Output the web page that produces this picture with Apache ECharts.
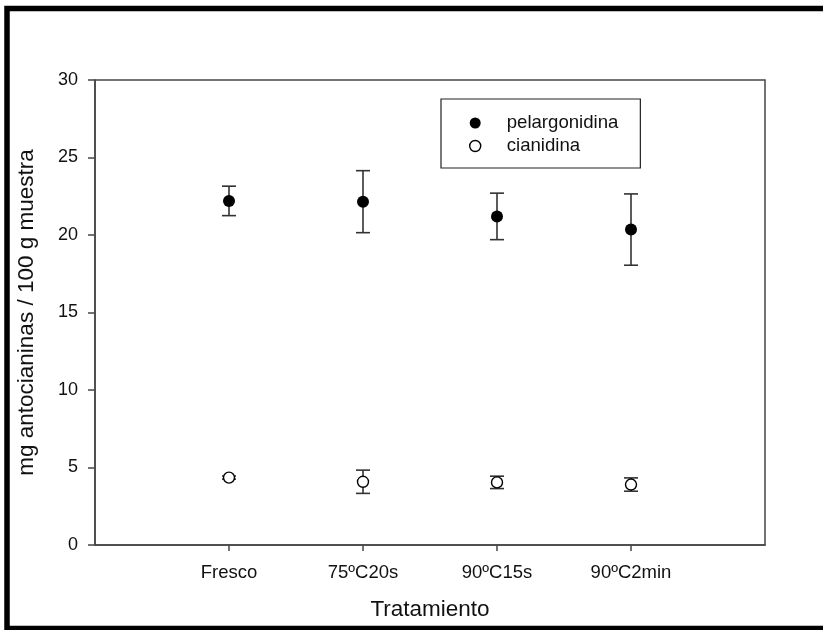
<!DOCTYPE html>
<html>
<head>
<meta charset="utf-8">
<script src="https://cdn.jsdelivr.net/npm/echarts@6/dist/echarts.min.js"></script>
<style>
  html, body { margin: 0; padding: 0; background: #fff; }
  #chart { width: 823px; height: 630px; }
</style>
</head>
<body>
<div id="chart"></div>
<script>
// Treatments along the x axis
const categories = ['Fresco', '75ºC20s', '90ºC15s', '90ºC2min'];
// Mean anthocyanin content (mg / 100 g) and error (±)
const pelargonidina = [22.2, 22.15, 21.2, 20.35];
const pelargonidinaErr = [0.95, 2.0, 1.5, 2.3];
const cianidina = [4.35, 4.08, 4.04, 3.9];
const cianidinaErr = [0.1, 0.75, 0.4, 0.43];
// Y axis ticks
const yTicks = [0, 5, 10, 15, 20, 25, 30];

const FONT = '"Liberation Sans", Arial, sans-serif';
const AXIS_COLOR = '#454545';

function points(values) {
  return values.map((v, i) => [i + 1, v]);
}
function errorData(values, errs) {
  return values.map((v, i) => [i + 1, v - errs[i], v + errs[i]]);
}

function renderError(params, api) {
  const x = api.value(0);
  const lo = api.coord([x, api.value(1)]);
  const hi = api.coord([x, api.value(2)]);
  const half = 7;
  const style = { stroke: '#333', lineWidth: 1.6 };
  return {
    type: 'group',
    children: [
      { type: 'line', shape: { x1: lo[0], y1: lo[1], x2: hi[0], y2: hi[1] }, style },
      { type: 'line', shape: { x1: hi[0] - half, y1: hi[1], x2: hi[0] + half, y2: hi[1] }, style },
      { type: 'line', shape: { x1: lo[0] - half, y1: lo[1], x2: lo[0] + half, y2: lo[1] }, style }
    ]
  };
}

const chart = echarts.init(document.getElementById('chart'), null, { renderer: 'canvas' });

chart.setOption({
  animation: false,
  backgroundColor: '#fff',
  textStyle: { fontFamily: FONT },
  graphic: [{
    type: 'rect',
    shape: { x: 7, y: 8.5, width: 830, height: 620 },
    style: { fill: 'none', stroke: '#000', lineWidth: 5.5 },
    silent: true
  }],
  grid: {
    left: 95, right: 58, top: 80, bottom: 85,
    show: true, borderColor: AXIS_COLOR, borderWidth: 1.5,
    containLabel: false
  },
  legend: {
    orient: 'vertical',
    left: 441, top: 99,
    padding: [14, 22, 12, 28],
    borderColor: '#222', borderWidth: 1.2,
    backgroundColor: '#fff',
    itemWidth: 11, itemHeight: 11,
    itemGap: 3,
    textStyle: { fontFamily: FONT, fontSize: 18.6, color: '#111', lineHeight: 20, padding: [0, 0, 0, 21] },
    data: [
      { name: 'pelargonidina', icon: 'circle', itemStyle: { color: '#000', borderWidth: 0 } },
      { name: 'cianidina', icon: 'circle', itemStyle: { color: '#fff', borderColor: '#000', borderWidth: 1.4 } }
    ]
  },
  xAxis: {
    type: 'value',
    min: 0, max: 5, interval: 1,
    name: 'Tratamiento',
    nameLocation: 'middle',
    nameGap: 53,
    nameTextStyle: { fontFamily: FONT, fontSize: 22.5, color: '#111' },
    axisLine: { show: true, lineStyle: { color: AXIS_COLOR, width: 1.5 } },
    axisTick: { show: true, length: 6, inside: false, customValues: [1, 2, 3, 4], lineStyle: { color: AXIS_COLOR, width: 1.5 } },
    axisLabel: {
      margin: 18,
      customValues: [1, 2, 3, 4],
      formatter: v => categories[Math.round(v) - 1] || '',
      fontFamily: FONT, fontSize: 18.5, color: '#111'
    },
    splitLine: { show: false }
  },
  yAxis: {
    type: 'value',
    min: yTicks[0], max: yTicks[yTicks.length - 1], interval: 5,
    name: 'mg antocianinas / 100 g muestra',
    nameLocation: 'middle',
    nameGap: 57,
    nameTextStyle: { fontFamily: FONT, fontSize: 22.5, color: '#111' },
    axisLine: { show: true, lineStyle: { color: AXIS_COLOR, width: 1.5 } },
    axisTick: { show: true, length: 7, inside: false, lineStyle: { color: AXIS_COLOR, width: 1.5 } },
    axisLabel: { margin: 17, fontFamily: FONT, fontSize: 18, color: '#111' },
    splitLine: { show: false }
  },
  series: [
    {
      name: 'pelargonidina err',
      type: 'custom',
      renderItem: renderError,
      data: errorData(pelargonidina, pelargonidinaErr),
      encode: { x: 0, y: [1, 2] },
      z: 2
    },
    {
      name: 'cianidina err',
      type: 'custom',
      renderItem: renderError,
      data: errorData(cianidina, cianidinaErr),
      encode: { x: 0, y: [1, 2] },
      z: 2
    },
    {
      name: 'pelargonidina',
      type: 'scatter',
      symbol: 'circle',
      symbolSize: 12,
      itemStyle: { color: '#000', opacity: 1 },
      data: points(pelargonidina),
      z: 5
    },
    {
      name: 'cianidina',
      type: 'scatter',
      symbol: 'circle',
      symbolSize: 11,
      itemStyle: { color: '#fff', borderColor: '#000', borderWidth: 1.4, opacity: 1 },
      data: points(cianidina),
      z: 5
    }
  ]
});
</script>
</body>
</html>
